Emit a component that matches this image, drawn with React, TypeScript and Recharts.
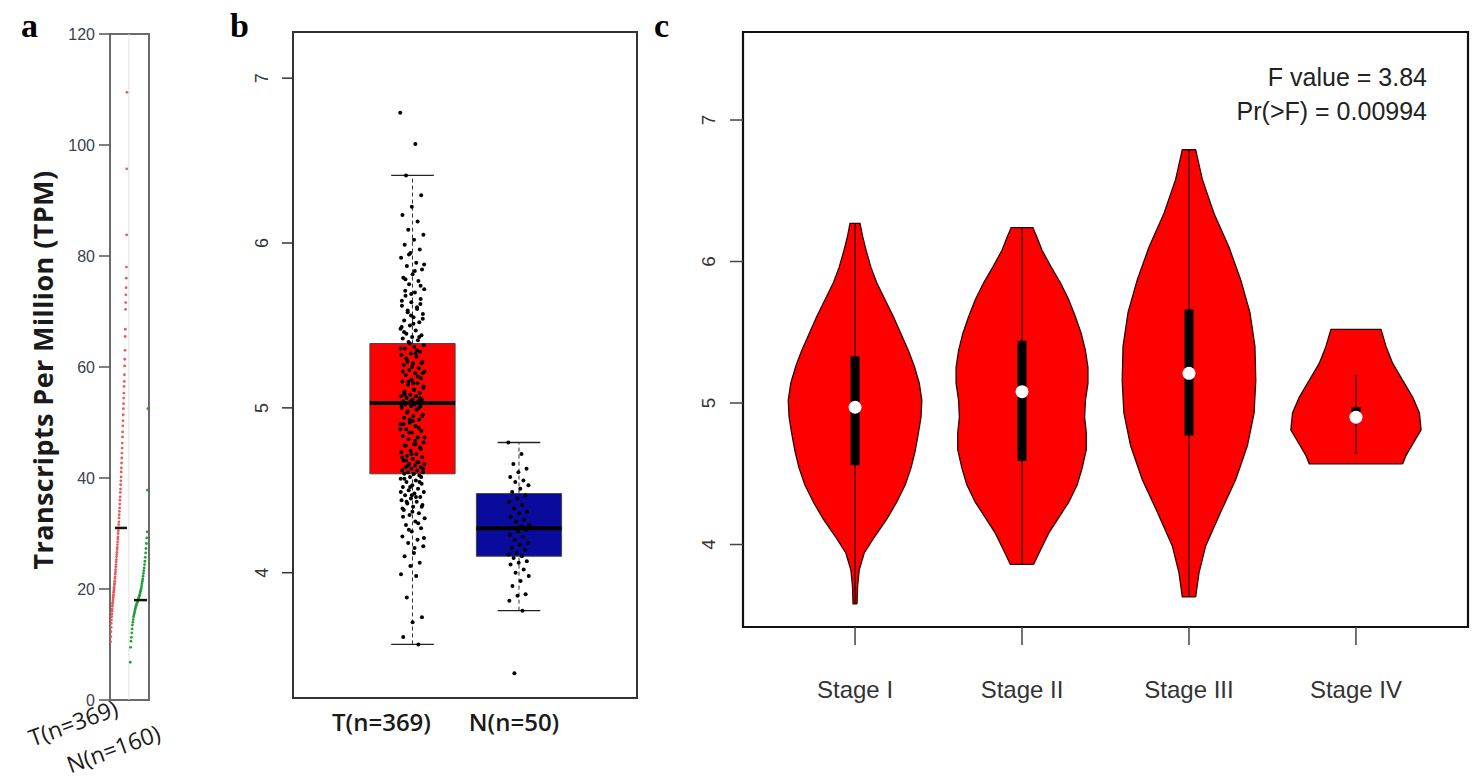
import React from 'react';
import { ScatterChart, Scatter, XAxis, YAxis, ReferenceArea } from 'recharts';

// ---- panel a: TPM dot plot ----
const tpmGroups = ['T(n=369)', 'N(n=160)'];
const tpmTicks = [0, 20, 40, 60, 80, 100, 120];
const tpmTumor = [
  10.5, 11.4, 12.3, 13.1, 13.8, 14.4, 15.0, 15.5, 16.0, 16.4, 16.9, 17.3, 17.6, 18.0, 18.4,
  18.7, 19.0, 19.4, 19.7, 20.0, 20.3, 20.7, 21.0, 21.4, 21.9, 22.2, 22.7, 23.1, 23.5, 24.0,
  24.4, 24.9, 25.3, 25.8, 26.2, 26.6, 27.1, 27.5, 28.0, 28.5, 29.0, 29.4, 30.0, 30.5, 31.0,
  31.6, 32.1, 32.8, 33.4, 34.0, 34.6, 35.3, 36.0, 36.6, 37.4, 38.0, 38.8, 39.5, 40.2, 41.1,
  41.8, 42.7, 43.6, 44.5, 45.4, 46.3, 47.4, 48.3, 49.4, 50.3, 51.4, 52.5, 53.4, 54.4, 55.3,
  56.5, 57.4, 58.6, 60.2, 61.4, 63.0, 65.5, 66.8, 70.4, 71.6, 73.0, 74.3, 76.0, 78.0, 83.8,
  95.7, 109.5,
];
const tpmNormal = [
  6.8, 9.5, 10.6, 11.3, 12.1, 12.8, 13.5, 14.0, 14.5, 15.0, 15.3, 15.6, 15.9, 16.2, 16.5,
  16.8, 17.0, 17.2, 17.4, 17.6, 17.8, 18.0, 18.2, 18.4, 18.6, 18.8, 19.0, 19.3, 19.6, 19.9,
  20.2, 20.6, 21.0, 21.4, 21.8, 22.3, 22.8, 23.3, 23.8, 24.4, 25.0, 25.7, 26.5, 27.3, 28.2,
  29.2, 30.3, 37.8, 52.5,
];
const tpmMedians = [31, 18];

// ---- panel b: box plot ----
const boxGroups = ['T(n=369)', 'N(n=50)'];
const boxTicks = [4, 5, 6, 7];
const boxLow = [3.565, 3.77];
const boxQ1 = [4.6, 4.1];
const boxMedian = [5.03, 4.27];
const boxQ3 = [5.39, 4.48];
const boxHigh = [6.41, 4.79];
const exprTumor = [
  6.79, 6.6, 6.41, 6.29, 6.22, 6.17, 6.13, 6.08, 6.05, 6.02, 5.99, 5.96, 5.94, 5.91, 5.88,
  5.86, 5.84, 5.81, 5.79, 5.77, 5.75, 5.72, 5.7, 5.68, 5.66, 5.64, 5.62, 5.6, 5.58, 5.57,
  5.55, 5.53, 5.52, 5.5, 5.48, 5.47, 5.45, 5.44, 5.43, 5.42, 5.41, 5.4,
  5.38, 5.37, 5.36, 5.34, 5.33, 5.32, 5.31, 5.29, 5.28, 5.27, 5.26, 5.24, 5.23, 5.22, 5.21,
  5.2, 5.18, 5.17, 5.16, 5.15, 5.14, 5.12, 5.11, 5.1, 5.09, 5.08, 5.07, 5.07, 5.06, 5.05,
  5.05, 5.04, 5.04, 5.03, 5.03, 5.02, 5.02, 5.01, 5.01, 5.0,
  4.99, 4.98, 4.96, 4.95, 4.94, 4.93, 4.91, 4.9, 4.89, 4.87, 4.86, 4.85, 4.83, 4.82, 4.81,
  4.79, 4.78, 4.77, 4.76, 4.74, 4.73, 4.72, 4.71, 4.7, 4.69, 4.68, 4.67, 4.66, 4.66, 4.65,
  4.64, 4.64, 4.63, 4.62, 4.62, 4.61, 4.61, 4.6, 4.6,
  4.59, 4.58, 4.57, 4.56, 4.55, 4.54, 4.53, 4.52, 4.51, 4.5, 4.49, 4.48, 4.47, 4.46, 4.45,
  4.44, 4.43, 4.42, 4.41, 4.4, 4.38, 4.36, 4.35, 4.33, 4.31, 4.29, 4.27, 4.25, 4.22, 4.2,
  4.18, 4.16, 4.12, 4.1, 4.06, 4.04, 3.99, 3.98, 3.85, 3.73, 3.7, 3.61, 3.565,
  5.93, 5.87, 5.83, 5.78, 5.74, 5.69, 5.65, 5.61, 5.59, 5.54, 5.51, 5.46, 5.43, 5.39, 5.36,
  5.33, 5.3, 5.27, 5.25, 5.22, 5.19, 5.16, 5.13, 5.11, 5.08, 5.06, 5.04, 5.02, 4.99, 4.97,
  4.95, 4.92, 4.9, 4.88, 4.85, 4.82, 4.8, 4.77, 4.75, 4.72, 4.7, 4.67, 4.65, 4.63, 4.6,
  4.57, 4.55, 4.52, 4.49, 4.46, 4.43, 4.4, 4.37, 4.34, 4.3, 4.26, 4.21, 4.15, 5.71, 5.63,
  5.56, 5.49, 5.35, 5.28, 5.21, 5.15, 5.09, 5.0, 4.93, 4.87, 4.78, 4.68, 4.58, 4.47, 4.39,
];
const exprNormal = [
  4.79, 4.72, 4.66, 4.63, 4.61, 4.58, 4.56, 4.55, 4.53, 4.51, 4.49, 4.47, 4.45, 4.43, 4.41,
  4.39, 4.37, 4.36, 4.34, 4.32, 4.31, 4.29, 4.28, 4.27, 4.26, 4.25, 4.23, 4.22, 4.2, 4.18,
  4.17, 4.15, 4.14, 4.12, 4.11, 4.1, 4.09, 4.07, 4.06, 4.05, 4.02, 4.0, 3.98, 3.95, 3.92,
  3.87, 3.86, 3.83, 3.77, 3.39,
];

// ---- panel c: violin plot by stage ----
const stages = ['Stage I', 'Stage II', 'Stage III', 'Stage IV'];
const stageTicks = [4, 5, 6, 7];
const stageLow = [3.58, 3.86, 3.63, 4.64];
const stageQ1 = [4.56, 4.59, 4.77, 4.9];
const stageMedian = [4.97, 5.08, 5.21, 4.9];
const stageQ3 = [5.33, 5.44, 5.66, 4.97];
const stageHigh = [6.27, 6.24, 6.79, 5.2];
// violin outline: expression level and half width (in category units)
const violinLevels = [
  [3.58, 3.7, 3.82, 3.94, 4.06, 4.18, 4.3, 4.42, 4.54, 4.66, 4.79, 4.9, 5.02, 5.14, 5.26, 5.37, 5.49, 5.61, 5.73, 5.85, 5.96, 6.08, 6.18, 6.27],
  [3.86, 3.96, 4.08, 4.19, 4.3, 4.42, 4.54, 4.67, 4.79, 4.9, 5.02, 5.14, 5.25, 5.37, 5.49, 5.61, 5.73, 5.85, 5.96, 6.08, 6.17, 6.24],
  [3.63, 3.8, 3.99, 4.23, 4.46, 4.7, 4.93, 5.16, 5.4, 5.64, 5.87, 6.1, 6.34, 6.58, 6.79],
  [4.57, 4.63, 4.7, 4.81, 4.93, 5.04, 5.16, 5.28, 5.4, 5.52],
];
const violinWidths = [
  [0.012, 0.015, 0.025, 0.055, 0.12, 0.19, 0.25, 0.3, 0.335, 0.36, 0.38, 0.395, 0.4, 0.385, 0.355, 0.32, 0.275, 0.23, 0.18, 0.13, 0.095, 0.066, 0.045, 0.03],
  [0.07, 0.11, 0.16, 0.22, 0.28, 0.33, 0.36, 0.385, 0.385, 0.375, 0.38, 0.395, 0.395, 0.38, 0.355, 0.32, 0.28, 0.23, 0.175, 0.12, 0.09, 0.065],
  [0.04, 0.06, 0.1, 0.19, 0.28, 0.35, 0.39, 0.4, 0.395, 0.365, 0.31, 0.24, 0.15, 0.08, 0.04],
  [0.28, 0.3, 0.335, 0.39, 0.38, 0.34, 0.28, 0.22, 0.18, 0.15],
];
const statLines = ['F value = 3.84', 'Pr(>F) = 0.00994'];

const noDot = () => <g />;
const seg = (x1: number, y1: number, x2: number, y2: number) => [
  { x: x1, y: y1 },
  { x: x2, y: y2 },
];
const jitter = (i: number, w: number) => (((i * 0.6180339887) % 1) - 0.5) * 2 * w;
const dot = (r: number, fill: string) => (p: any) => <circle cx={p.cx} cy={p.cy} r={r} fill={fill} />;

const sans = '"Liberation Sans", Arial, sans-serif';
const calib = '"Open Sans", sans-serif';

const RotYTick = ({ x, y, payload, shift, size }: any) => (
  <text
    x={x - shift}
    y={y}
    transform={`rotate(-90, ${x - shift}, ${y})`}
    textAnchor="middle"
    fontSize={size}
    fill="#333"
    fontFamily={sans}
  >
    {payload.value}
  </text>
);

const PanelA = () => {
  const tumorPts = [...tpmTumor]
    .sort((p, q) => p - q)
    .map((v, i, arr) => ({ x: 0.03 + (i / (arr.length - 1)) * 0.84, y: v }));
  const normalPts = [...tpmNormal]
    .sort((p, q) => p - q)
    .map((v, i, arr) => ({ x: 1.04 + (i / (arr.length - 1)) * 0.9, y: v }));
  const labelTick = ({ x, y, payload }: any) => {
    const k = payload.value < 1 ? 0 : 1;
    const ex = x + (k === 0 ? 0 : 23);
    const ey = y + (k === 0 ? 15 : 40);
    return (
      <text x={ex} y={ey} transform={`rotate(-20, ${ex}, ${ey})`} textAnchor="end" fontSize={23} fill="#1a1a1a" fontFamily={calib}>
        {tpmGroups[k]}
      </text>
    );
  };
  return (
    <ScatterChart width={200} height={783} margin={{ top: 34, right: 51, bottom: 43, left: 60 }} style={{ overflow: 'visible' }}>
      <XAxis type="number" dataKey="x" domain={[0, 2]} ticks={[0.5, 1.5]} interval={0} allowDataOverflow height={40} axisLine={false} tickLine={false} tickSize={0} tickMargin={0} tick={labelTick} />
      <YAxis
        type="number"
        dataKey="y"
        domain={[0, 120]}
        ticks={tpmTicks}
        interval={0}
        allowDataOverflow
        width={50}
        axisLine={false}
        tickSize={11}
        tickMargin={4}
        tickLine={{ stroke: '#555', strokeWidth: 1.5 }}
        tick={{ fontSize: 16, fill: '#3a3f4a', fontFamily: sans }}
      />
      <ReferenceArea x1={0} x2={2} y1={0} y2={120} fill="none" stroke="#6a6a6a" strokeWidth={2} />
      <Scatter data={seg(0.97, 0, 0.97, 120)} line={{ stroke: '#eadede', strokeWidth: 1 }} shape={noDot} isAnimationActive={false} />
      <Scatter data={tumorPts} shape={dot(1.4, '#e8595b')} isAnimationActive={false} />
      <Scatter data={normalPts} shape={dot(1.4, '#21a03a')} isAnimationActive={false} />
      <Scatter data={seg(0.26, tpmMedians[0], 0.87, tpmMedians[0])} line={{ stroke: '#111', strokeWidth: 2.5 }} shape={noDot} isAnimationActive={false} />
      <Scatter data={seg(1.23, tpmMedians[1], 1.9, tpmMedians[1])} line={{ stroke: '#111', strokeWidth: 2.5 }} shape={noDot} isAnimationActive={false} />
    </ScatterChart>
  );
};

const PanelB = () => {
  const fills = ['#ff0000', '#0a0a9c'];
  const groups = [exprTumor, exprNormal];
  const labelTick = ({ x, y, payload }: any) => {
    const k = payload.value < 1.5 ? 0 : 1;
    return (
      <text x={x + (k === 0 ? -31 : -5)} y={y + 33} textAnchor="middle" fontSize={24} fill="#1a1a1a" fontFamily={calib} fontWeight={600}>
        {boxGroups[k]}
      </text>
    );
  };
  return (
    <ScatterChart width={460} height={783} margin={{ top: 32, right: 23, bottom: 45, left: 43 }}>
      <XAxis type="number" dataKey="x" domain={[-0.122, 3.108]} ticks={[1, 2]} interval={0} allowDataOverflow height={40} axisLine={false} tickLine={false} tickSize={0} tickMargin={0} tick={labelTick} />
      <YAxis
        type="number"
        dataKey="y"
        domain={[3.24, 7.28]}
        ticks={boxTicks}
        interval={0}
        allowDataOverflow
        width={50}
        axisLine={false}
        tickSize={11}
        tickMargin={2}
        tickLine={{ stroke: '#333', strokeWidth: 1.5 }}
        tick={(p: any) => <RotYTick {...p} shift={12} size={18} />}
      />
      <ReferenceArea x1={-0.122} x2={3.108} y1={3.24} y2={7.28} fill="none" stroke="#333" strokeWidth={2} />
      {boxGroups.map((g, k) => (
        <ReferenceArea key={g} x1={k + 1 - 0.4} x2={k + 1.4} y1={boxQ1[k]} y2={boxQ3[k]} fill={fills[k]} fillOpacity={1} stroke="#444" strokeWidth={1} />
      ))}
      {boxGroups.map((g, k) => (
        <Scatter key={'wl' + g} data={seg(k + 1, boxLow[k], k + 1, boxQ1[k])} line={{ stroke: '#333', strokeWidth: 1, strokeDasharray: '4 3' }} shape={noDot} isAnimationActive={false} />
      ))}
      {boxGroups.map((g, k) => (
        <Scatter key={'wh' + g} data={seg(k + 1, boxQ3[k], k + 1, boxHigh[k])} line={{ stroke: '#333', strokeWidth: 1, strokeDasharray: '4 3' }} shape={noDot} isAnimationActive={false} />
      ))}
      {boxGroups.map((g, k) => (
        <Scatter key={'cl' + g} data={seg(k + 0.8, boxLow[k], k + 1.2, boxLow[k])} line={{ stroke: '#222', strokeWidth: 1.3 }} shape={noDot} isAnimationActive={false} />
      ))}
      {boxGroups.map((g, k) => (
        <Scatter key={'ch' + g} data={seg(k + 0.8, boxHigh[k], k + 1.2, boxHigh[k])} line={{ stroke: '#222', strokeWidth: 1.3 }} shape={noDot} isAnimationActive={false} />
      ))}
      {boxGroups.map((g, k) => (
        <Scatter key={'md' + g} data={seg(k + 0.6, boxMedian[k], k + 1.4, boxMedian[k])} line={{ stroke: '#000', strokeWidth: 4 }} shape={noDot} isAnimationActive={false} />
      ))}
      {groups.map((vals, k) => (
        <Scatter
          key={'pt' + k}
          data={vals.map((v, i) => ({ x: k + 1 + jitter(i, k === 0 ? 0.115 : 0.1), y: v }))}
          shape={dot(2, '#000')}
          isAnimationActive={false}
        />
      ))}
    </ScatterChart>
  );
};

const PanelC = () => {
  const outlines = stages.map((s, k) => {
    const lv = violinLevels[k];
    const wd = violinWidths[k];
    const right = lv.map((v, i) => ({ x: k + 1 + wd[i], y: v }));
    const left = lv.map((v, i) => ({ x: k + 1 - wd[i], y: v })).reverse();
    return [...right, ...left, right[0]];
  });
  const labelTick = ({ x, y, payload }: any) => (
    <text x={x} y={y + 53} textAnchor="middle" fontSize={24} fill="#333" fontFamily={sans}>
      {stages[Math.round(payload.value) - 1]}
    </text>
  );
  return (
    <ScatterChart width={818} height={783} margin={{ top: 32, right: 10, bottom: 96, left: 33 }}>
      <XAxis
        type="number"
        dataKey="x"
        domain={[0.329, 4.671]}
        ticks={[1, 2, 3, 4]}
        interval={0}
        allowDataOverflow
        height={60}
        axisLine={false}
        tickSize={18}
        tickMargin={0}
        tickLine={{ stroke: '#444', strokeWidth: 1.5 }}
        tick={labelTick}
      />
      <YAxis
        type="number"
        dataKey="y"
        domain={[3.417, 7.622]}
        ticks={stageTicks}
        interval={0}
        allowDataOverflow
        width={50}
        axisLine={false}
        tickSize={13}
        tickMargin={2}
        tickLine={{ stroke: '#444', strokeWidth: 1.5 }}
        tick={(p: any) => <RotYTick {...p} shift={13} size={19} />}
      />
      <ReferenceArea x1={0.329} x2={4.671} y1={3.417} y2={7.622} fill="none" stroke="#111" strokeWidth={2.2} />
      {outlines.map((pts, k) => (
        <Scatter key={'v' + k} data={pts} line={{ stroke: '#2a0505', strokeWidth: 1.3, fill: '#ff0000' }} shape={noDot} isAnimationActive={false} />
      ))}
      {stages.map((s, k) => (
        <Scatter key={'w' + k} data={seg(k + 1, stageLow[k], k + 1, stageHigh[k])} line={{ stroke: '#5a0000', strokeWidth: 1.6 }} shape={noDot} isAnimationActive={false} />
      ))}
      {stages.map((s, k) => (
        <Scatter key={'q' + k} data={seg(k + 1, stageQ1[k], k + 1, stageQ3[k])} line={{ stroke: '#000', strokeWidth: 9 }} shape={noDot} isAnimationActive={false} />
      ))}
      <Scatter data={stages.map((s, k) => ({ x: k + 1, y: stageMedian[k] }))} shape={dot(6.5, '#fff')} isAnimationActive={false} />
    </ScatterChart>
  );
};

const abs = (left: number, top: number): React.CSSProperties => ({ position: 'absolute', left, top });

export default function App() {
  return (
    <div style={{ position: 'absolute', left: 0, top: 0, width: 1478, height: 783, background: '#fff', overflow: 'hidden' }}>
      <div style={abs(0, 0)}>
        <PanelA />
      </div>
      <div style={abs(200, 0)}>
        <PanelB />
      </div>
      <div style={abs(660, 0)}>
        <PanelC />
      </div>
      <div
        style={{
          position: 'absolute',
          left: 43 - 220,
          top: 370 - 17,
          width: 440,
          height: 34,
          lineHeight: '34px',
          textAlign: 'center',
          transform: 'rotate(-90deg)',
          fontFamily: calib,
          fontWeight: 700,
          fontSize: 27,
          letterSpacing: 0.4,
          color: '#1a1a1a',
          whiteSpace: 'nowrap',
        }}
      >
        Transcripts Per Million (TPM)
      </div>
      {['a', 'b', 'c'].map((t, i) => (
        <div
          key={t}
          style={{
            ...abs([21, 230, 654][i], 6),
            fontFamily: '"Liberation Serif", "Times New Roman", serif',
            fontWeight: 700,
            fontSize: 34,
            lineHeight: '40px',
            color: '#000',
          }}
        >
          {t}
        </div>
      ))}
      {statLines.map((t, i) => (
        <div
          key={t}
          style={{
            position: 'absolute',
            right: 1478 - 1427,
            top: 62 + i * 34,
            fontFamily: sans,
            fontSize: 25,
            lineHeight: '30px',
            color: '#222',
            whiteSpace: 'nowrap',
          }}
        >
          {t}
        </div>
      ))}
    </div>
  );
}
